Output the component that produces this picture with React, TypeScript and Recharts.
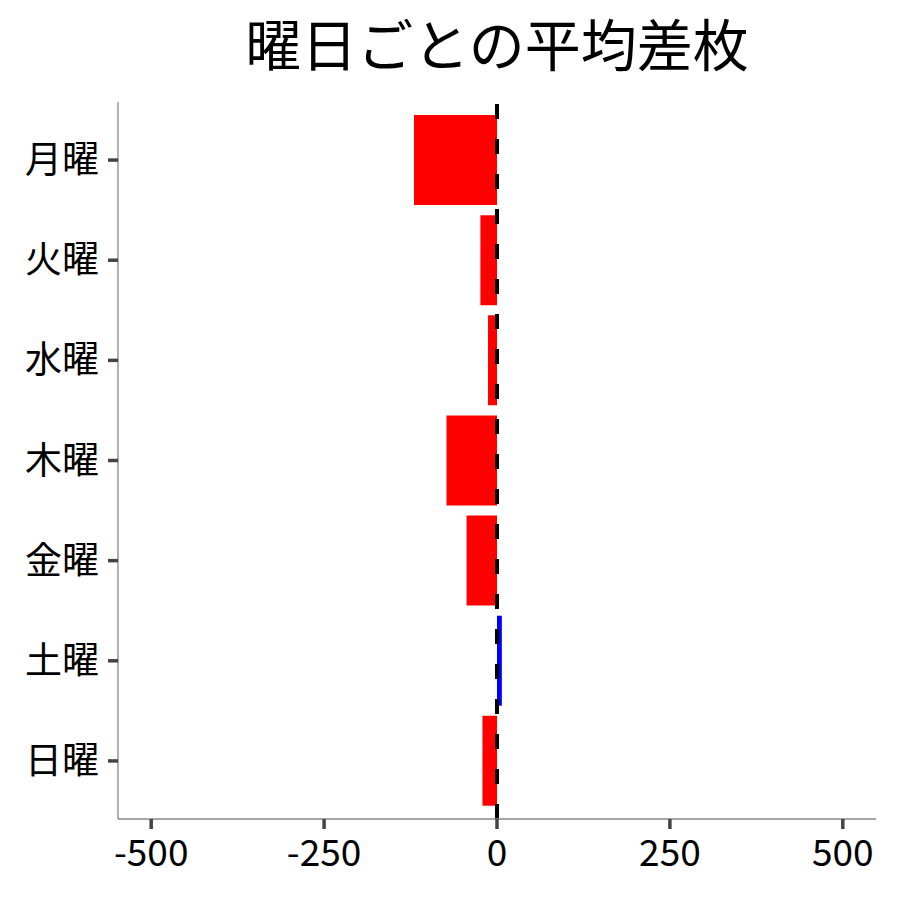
import React from "react";
import {
  BarChart,
  Bar,
  XAxis,
  YAxis,
  Cell,
  ReferenceLine,
} from "recharts";

const days = ["月曜", "火曜", "水曜", "木曜", "金曜", "土曜", "日曜"];
const avgDiff = [-120, -24, -13, -73, -44, 7, -21];
const xTicks = [-500, -250, 0, 250, 500];

const FONT = '"Noto Sans CJK JP", "Noto Sans", sans-serif';

export default function App() {
  const data = days.map((day, i) => ({ day, value: avgDiff[i] }));

  return (
    <div
      style={{
        position: "absolute",
        left: 0,
        top: 0,
        width: 900,
        height: 900,
        background: "#fff",
        fontFamily: FONT,
      }}
    >
      <div
        style={{
          position: "absolute",
          left: 118,
          width: 758,
          top: 6,
          textAlign: "center",
          fontSize: 56,
          lineHeight: "72px",
          color: "#000",
        }}
      >
        曜日ごとの平均差枚
      </div>
      <BarChart
        width={900}
        height={900}
        data={data}
        layout="vertical"
        margin={{ top: 102, right: 24, bottom: 0, left: 0 }}
        barSize={90}
        style={{ fontFamily: FONT }}
      >
        <XAxis
          type="number"
          domain={[-548, 548]}
          ticks={xTicks}
          allowDataOverflow
          height={81}
          tickSize={10}
          tickMargin={11}
          axisLine={{ stroke: "#888", strokeWidth: 1.3 }}
          tickLine={{ stroke: "#444", strokeWidth: 3.5 }}
          tick={{ fontSize: 37, fill: "#000", fontFamily: FONT }}
        />
        <YAxis
          type="category"
          dataKey="day"
          width={118}
          padding={{ top: 8, bottom: 8 }}
          tickSize={10}
          tickMargin={9}
          axisLine={{ stroke: "#888", strokeWidth: 1.3 }}
          tickLine={{ stroke: "#444", strokeWidth: 3.5 }}
          tick={{ fontSize: 37, fill: "#000", fontFamily: FONT }}
        />
        <Bar dataKey="value" isAnimationActive={false}>
          {data.map((d) => (
            <Cell key={d.day} fill={d.value < 0 ? "#ff0000" : "#0000ff"} />
          ))}
        </Bar>
        <ReferenceLine
          x={0}
          stroke="#000"
          strokeWidth={4}
          strokeDasharray="15 20"
        />
      </BarChart>
    </div>
  );
}
